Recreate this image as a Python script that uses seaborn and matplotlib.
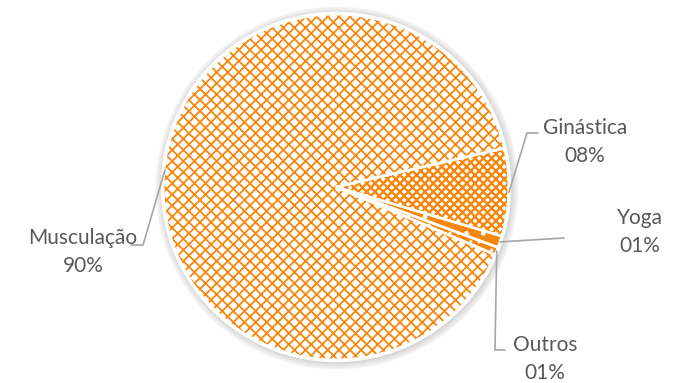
import numpy as np
import seaborn as sns
import matplotlib.pyplot as plt
from matplotlib.patches import Circle

# dados (ordem de desenho: sentido horário a partir de Ginástica)
categorias = ['Ginástica', 'Yoga', 'Outros', 'Musculação']
valores = [8.2, 1.1, 0.7, 90.0]
rotulos = ['08%', '01%', '01%', '90%']

laranja = '#F7870F'
cinza_txt = '#595959'
cinza_linha = '#A6A6A6'

sns.set_theme(style="white")
plt.rcParams['font.family'] = ['Lato', 'DejaVu Sans']
plt.rcParams['hatch.linewidth'] = 1.3

fig = plt.figure(figsize=(6.9, 3.83), dpi=100)
ax = fig.add_axes([0, 0, 1, 1])

H = 383
cx, cy, r = 336, H - 187, 173
inicio = 13

# sombra suave
for i in range(8):
    ax.add_patch(Circle((cx + 1, cy - 1), r + 1 + i, color='black', alpha=0.018, zorder=0))

estilos = [
    dict(facecolor='white', edgecolor=laranja, hatch='xxxx', lw=1.7),
    dict(facecolor=laranja, edgecolor='white', hatch='.', lw=1.0),
    dict(facecolor=laranja, edgecolor='white', hatch='..', lw=1.0),
    dict(facecolor='white', edgecolor=laranja, hatch='xxx', lw=1.3),
]

wedges, _ = ax.pie(valores, startangle=inicio, counterclock=False,
                   center=(cx, cy), radius=r,
                   wedgeprops=dict(linewidth=0))
for w, st in zip(wedges, estilos):
    w.set_facecolor(st['facecolor'])
    w.set_edgecolor(st['edgecolor'])
    w.set_hatch(st['hatch'])
    w.set_linewidth(0)
    if hasattr(w, 'set_hatch_linewidth'):
        w.set_hatch_linewidth(st['lw'])

# contornos brancos entre fatias
ax.pie(valores, startangle=inicio, counterclock=False, center=(cx, cy), radius=r,
       wedgeprops=dict(facecolor='none', edgecolor='white', linewidth=1.8))
ax.add_patch(Circle((cx, cy), r + 0.5, facecolor='none', edgecolor='white', linewidth=2.5))


def ponto_borda(w, frac=0.5):
    ang = np.deg2rad(w.theta1 + (w.theta2 - w.theta1) * frac)
    return cx + r * np.cos(ang), cy + r * np.sin(ang)


# linhas de chamada (x, y em pixels da imagem)
gin, yog, out, mus = wedges
p = ponto_borda(gin)
ax.plot([p[0], 527, 538], [p[1], H - 133, H - 133], color=cinza_linha, lw=1.2)
p = ponto_borda(yog)
ax.plot([p[0], 564], [p[1], H - 238], color=cinza_linha, lw=1.2)
p = ponto_borda(out)
ax.plot([p[0], 495, 505], [p[1], H - 350, H - 350], color=cinza_linha, lw=1.2)
ax.plot([165, 143, 131], [H - 170, H - 245, H - 245], color=cinza_linha, lw=1.2)

posicoes = {'Ginástica': (585, 128), 'Yoga': (640, 218), 'Outros': (545, 345), 'Musculação': (83, 238)}
for cat, rot in zip(categorias, rotulos):
    x, y = posicoes[cat]
    ax.text(x, H - y, cat, ha='center', va='center', fontsize=15, color=cinza_txt)
    ax.text(x, H - y - 28, rot, ha='center', va='center', fontsize=15, color=cinza_txt)

ax.set_xlim(0, 690)
ax.set_ylim(0, H)
ax.set_aspect('auto')
ax.axis('off')

fig.savefig('out.png', dpi=100)
